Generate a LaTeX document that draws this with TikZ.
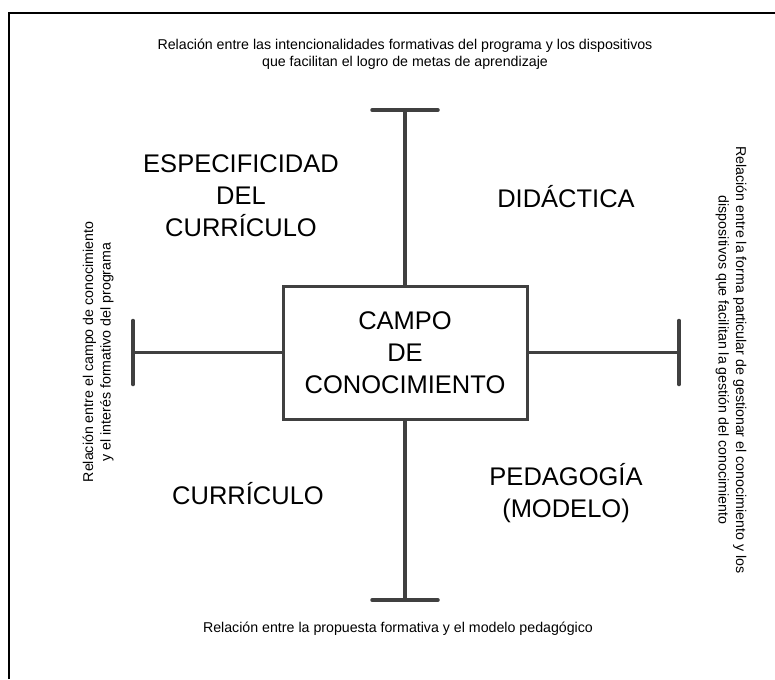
\documentclass[tikz,border=0pt]{standalone}
\usepackage{fontspec}
\setmainfont{Liberation Sans}
\usetikzlibrary{positioning}
\tikzset{
  bigtext/.style={font=\fontsize{25.5}{32}\selectfont, align=center, inner sep=0pt},
  captext/.style={font=\fontsize{14.2}{17.5}\selectfont, align=center, inner sep=0pt},
  tbar/.style={line width=3.5pt, draw=black!75},
}

\begin{document}
\begin{tikzpicture}[x=1pt,y=-1pt]
		\useasboundingbox (0,0) rectangle (775,679);
		% Outer frame (only its top and left edges show)
		\draw[line width=2pt] (9,679) -- (9,13) -- (775,13);

		% Central box
		\node[draw=black!75, line width=3pt, minimum width=244pt, minimum height=133pt, bigtext] (campo) at (405,352.5) {CAMPO\\DE\\CONOCIMIENTO};

		% Ends of the four arms
		\coordinate (top) at (405,110);
		\coordinate (bottom) at (405,600);
		\coordinate (left) at (133,352.5);
		\coordinate (right) at (679,352.5);

		% Draw the arms and their bars
		\foreach \arm/\side in {top/north, bottom/south, left/west, right/east} {
				\draw[tbar] (campo.\side) -- (\arm);
			}
		\foreach \arm/\dx/\dy in {top/33/0, bottom/33/0, left/0/32, right/0/32} {
				\draw[tbar, line cap=round] ([shift={(-\dx,-\dy)}]\arm) -- ([shift={(\dx,\dy)}]\arm);
			}

		% Quadrant labels
		\node[bigtext] (espec) at (241,196) {ESPECIFICIDAD\\DEL\\CURRÍCULO};
		\node[bigtext] (didac) at (566,197) {DIDÁCTICA};
		\node[bigtext] (curric) at (248,494) {CURRÍCULO};
		\node[bigtext] (pedag) at (566,493) {PEDAGOGÍA\\(MODELO)};

		% Relations at the arm ends
		\node[captext] (captop) at (405,54) {Relación entre las intencionalidades formativas del programa y los dispositivos\\que facilitan el logro de metas de aprendizaje};
		\node[captext] (capbot) at (398,629) {Relación entre la propuesta formativa y el modelo pedagógico};
		\node[captext, rotate=90] (capleft) at (98,352) {Relación entre el campo de conocimiento\\y el interés formativo del programa};
		\node[captext, rotate=-90] (capright) at (731,360) {Relación entre la forma particular de gestionar el conocimiento y los\\dispositivos que facilitan la gestión del conocimiento};
	\end{tikzpicture}
\end{document}
